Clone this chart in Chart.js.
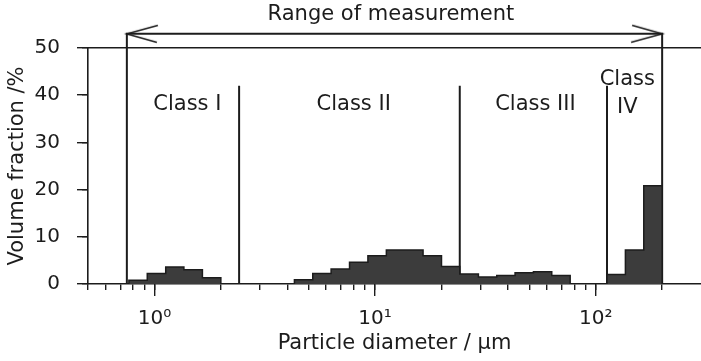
<!DOCTYPE html>
<html>
<head>
<meta charset="utf-8">
<script src="https://cdn.jsdelivr.net/npm/chart.js@4.4.1/dist/chart.umd.min.js"></script>
<style>
  html, body { margin: 0; padding: 0; background: #fff; }
  #wrap { width: 701px; height: 361px; }
</style>
</head>
<body>
<div id="wrap"><canvas id="psd"></canvas></div>
<script>
// size classes: 12 bins per decade, edges in µm
const binEdges = [0.766, 0.928, 1.125, 1.36, 1.65, 2.0, 2.42, 2.94, 3.56, 4.31, 5.22, 6.32, 7.66, 9.28,
                  11.25, 13.6, 16.5, 20.0, 24.2, 29.4, 35.6, 43.1, 52.2, 63.2, 76.6, 92.8, 112.5, 136.3, 165.1, 200];
// volume fraction of each bin, %
const binValues = [0.8, 2.2, 3.6, 3.0, 1.3, 0, 0, 0, 0,
                   0.9, 2.2, 3.2, 4.6, 6.0, 7.2, 7.2, 6.0, 3.7,
                   2.1, 1.5, 1.8, 2.4, 2.6, 1.8, 0, 0,
                   2.0, 7.2, 20.8];

const classNames = ['Class I', 'Class II', 'Class III', 'Class\nIV'];
const classBounds = [2.42, 24.2, 112.5];   // µm
const classLineTop = 42;                    // %
const rangeBounds = [0.75, 200];            // µm
const rangeTop = 53;                        // %

const xMinorTicks = [0.5, 0.6, 0.7, 0.8, 0.9, 1, 2, 3, 4, 5, 6, 7, 8, 9,
                     10, 20, 30, 40, 50, 60, 70, 80, 90, 100, 200];
const xMajorTicks = [1, 10, 100];
const xMajorLabels = ['10\u2070', '10\u00b9', '10\u00b2'];

const ink = '#1c1c1c';
const textFont = { family: '"DejaVu Sans", sans-serif', size: 21 };
const tickFont = { family: '"DejaVu Sans", sans-serif', size: 20 };

// histogram outline as a stepped line: each bin holds its value up to the next edge
const histPoints = [{ x: binEdges[0], y: 0 }];
binValues.forEach((v, i) => histPoints.push({ x: binEdges[i], y: v }));
histPoints.push({ x: binEdges[binEdges.length - 1], y: 0 });

// open arrow head, tip in the middle of the canvas pointing left
function makeArrowHead() {
  const c = document.createElement('canvas');
  c.width = 64; c.height = 20;
  const g = c.getContext('2d');
  g.strokeStyle = ink;
  g.lineWidth = 1.6;
  g.beginPath();
  g.moveTo(63, 1.5); g.lineTo(32, 10); g.lineTo(62, 18.5);
  g.stroke();
  return c;
}
const arrowHead = makeArrowHead();

const classLines = classBounds.map(b => ({
  type: 'line',
  data: [{ x: b, y: 0 }, { x: b, y: classLineTop }],
  borderColor: ink,
  borderWidth: 2,
  pointRadius: 0,
  fill: false,
  clip: false
}));

const classLabels = {
  id: 'classLabels',
  afterDatasetsDraw(chart, args, opts) {
    const { ctx, scales: { x, y } } = chart;
    ctx.save();
    ctx.font = textFont.size + 'px ' + textFont.family;
    ctx.fillStyle = ink;
    ctx.textAlign = 'center';
    ctx.textBaseline = 'middle';
    classNames.forEach((name, i) => {
      const lines = name.split('\n');
      const px = x.getPixelForValue(opts.at[i]);
      const py = y.getPixelForValue(opts.y) + (lines.length > 1 ? 3 : 0);
      lines.forEach((t, k) => ctx.fillText(t, px, py + (k - (lines.length - 1)) * 28));
    });
    ctx.fillText('Range of measurement', x.getPixelForValue(opts.rangeAt), y.getPixelForValue(opts.rangeY));
    ctx.restore();
  }
};

new Chart(document.getElementById('psd'), {
  type: 'line',
  data: {
    datasets: [
      {
        data: histPoints,
        stepped: 'before',
        borderColor: ink,
        borderWidth: 1.5,
        backgroundColor: '#3c3c3c',
        fill: 'origin',
        pointRadius: 0
      },
      ...classLines,
      {
        // measuring range bracket with arrows
        data: [{ x: rangeBounds[0], y: 0 }, { x: rangeBounds[0], y: rangeTop },
               { x: rangeBounds[1], y: rangeTop }, { x: rangeBounds[1], y: 0 }],
        borderColor: ink,
        borderWidth: 2,
        fill: false,
        clip: false,
        pointStyle: arrowHead,
        // large radius keeps the head from being culled above the plot area
        pointRadius: ctx => (ctx.dataIndex === 1 || ctx.dataIndex === 2) ? 20 : 0,
        pointBorderWidth: 0,
        pointRotation: ctx => ctx.dataIndex === 2 ? 180 : 0
      }
    ]
  },
  options: {
    responsive: true,
    maintainAspectRatio: false,
    animation: false,
    layout: { padding: { top: 48, right: 0, left: 0, bottom: 0 } },
    plugins: {
      legend: { display: false },
      tooltip: { enabled: false },
      classLabels: { at: [1.41, 8.0, 53.3, 139], y: 38, rangeAt: 11.8, rangeY: 57 }
    },
    scales: {
      x: {
        type: 'logarithmic',
        position: 'bottom',
        min: 0.5,
        max: 300,
        afterBuildTicks: s => { s.ticks = xMinorTicks.map(v => ({ value: v })); },
        afterFit: s => { s.height = 77; },
        border: { color: ink, width: 1.6 },
        grid: { drawOnChartArea: false, tickLength: 6, color: ink, lineWidth: 1.4 },
        ticks: {
          autoSkip: false,
          maxRotation: 0,
          padding: 17,
          font: tickFont,
          color: ink,
          callback: v => {
            const i = xMajorTicks.indexOf(v);
            return i >= 0 ? xMajorLabels[i] : '';
          }
        },
        title: { display: true, text: 'Particle diameter / \u03bcm', font: textFont, color: ink, padding: { top: 0, bottom: 5 } }
      },
      xMajor: {
        type: 'logarithmic',
        position: { y: 0 },
        min: 0.5,
        max: 300,
        afterBuildTicks: s => { s.ticks = xMajorTicks.map(v => ({ value: v })); },
        border: { display: false },
        grid: { drawOnChartArea: false, tickLength: 12, color: ink, lineWidth: 1.4 },
        ticks: { display: false }
      },
      y: {
        type: 'linear',
        position: 'left',
        min: 0,
        max: 50,
        afterFit: s => { s.width = 88; },
        border: { color: ink, width: 1.6 },
        grid: { drawOnChartArea: false, tickLength: 6, color: ink, lineWidth: 1.4 },
        ticks: {
          stepSize: 5,
          padding: 22,
          font: tickFont,
          color: ink,
          callback: v => (v % 10 === 0 ? v : '')
        },
        title: { display: true, text: 'Volume fraction /%', font: textFont, color: ink, padding: { top: 5, bottom: 0 } }
      },
      yMajor: {
        type: 'linear',
        position: { x: 0.5 },
        min: 0,
        max: 50,
        border: { display: false },
        grid: {
          drawOnChartArea: true,
          tickLength: 11,
          color: ctx => (ctx.tick && ctx.tick.value === 50 ? ink : 'rgba(0,0,0,0)'),
          tickColor: ink,
          lineWidth: 1.4
        },
        ticks: { display: false, stepSize: 10 }
      }
    }
  },
  plugins: [classLabels]
});
</script>
</body>
</html>
